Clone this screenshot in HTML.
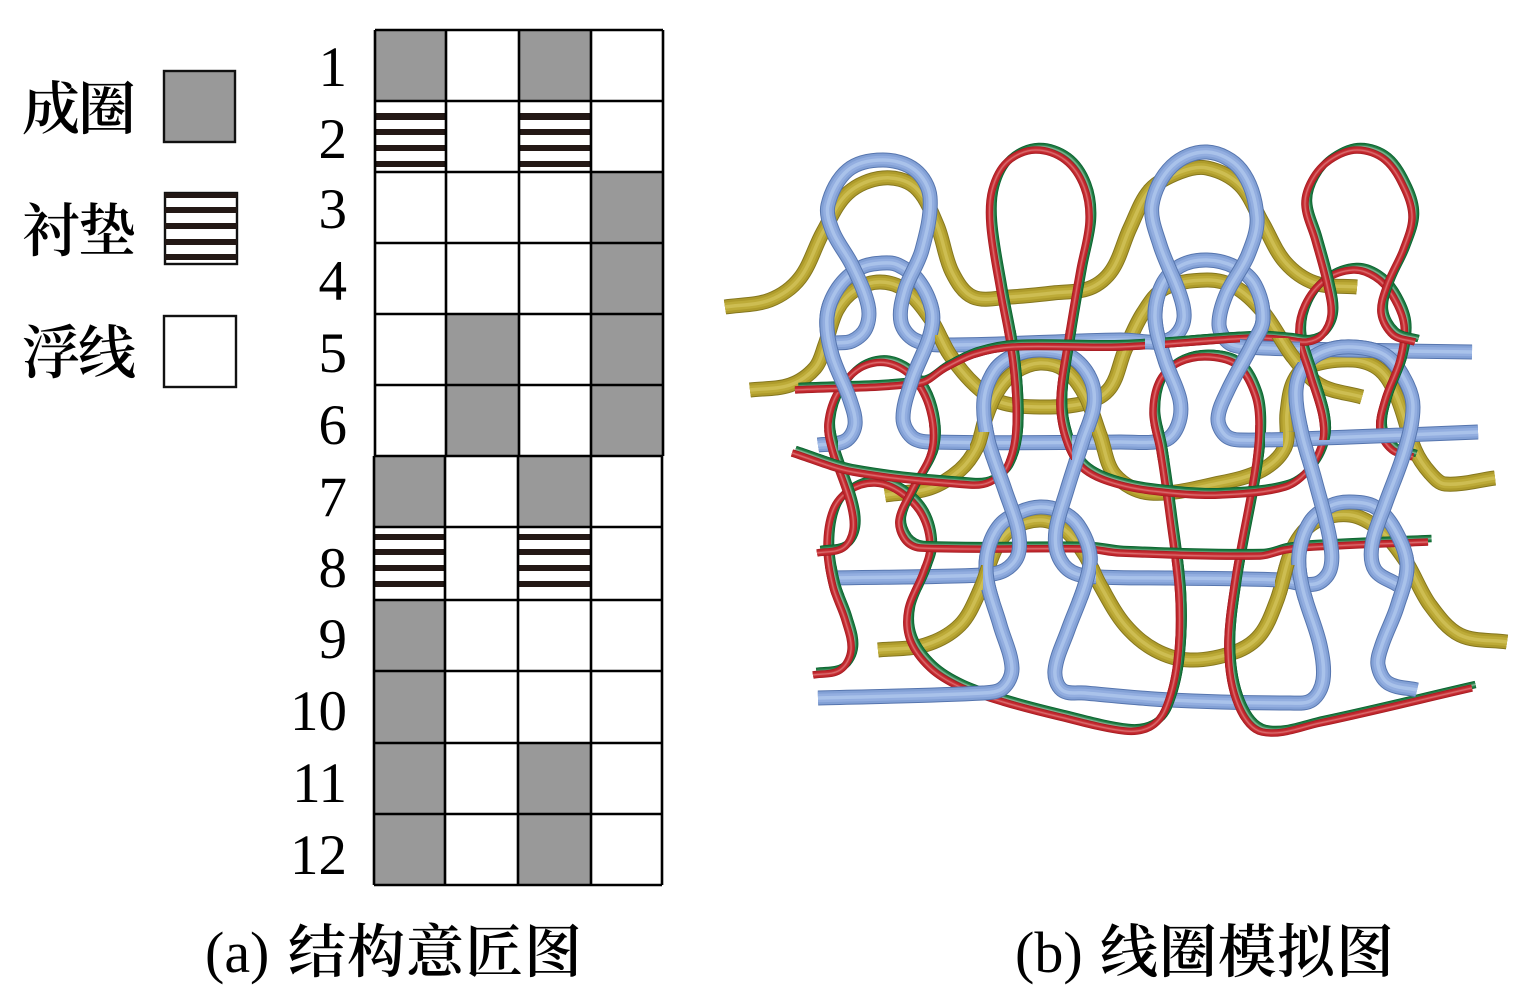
<!DOCTYPE html>
<html><head><meta charset="utf-8"><style>
html,body{margin:0;padding:0;background:#fff}
svg{display:block}
.n{font-family:"Liberation Serif",serif;font-size:57px;text-anchor:end;fill:#000}
.c{font-family:"Liberation Serif","Noto Serif CJK SC",serif;font-size:58px;font-weight:600;fill:#000}
.l{font-family:"Liberation Serif",serif;font-size:58px;fill:#000}
</style></head><body>
<svg id="s" xmlns="http://www.w3.org/2000/svg" width="1538" height="992" viewBox="0 0 1538 992">
<rect width="1538" height="992" fill="#fff"/>
<!-- legend -->
<text class="c" x="22" y="129" textLength="114">成圈</text>
<text class="c" x="22" y="251" textLength="114">衬垫</text>
<text class="c" x="22" y="373" textLength="114">浮线</text>
<rect x="164" y="71" width="71" height="71" fill="#999" stroke="#111" stroke-width="2.4"/>
<rect x="165" y="193" width="72" height="71" fill="#fff" stroke="#111" stroke-width="2.4"/>
<g fill="#231815"><rect x="165" y="193" width="72" height="5"/><rect x="165" y="207" width="72" height="6"/><rect x="165" y="223" width="72" height="6"/><rect x="165" y="239" width="72" height="6"/><rect x="165" y="254" width="72" height="6"/></g>
<rect x="164" y="316" width="72" height="71" fill="#fff" stroke="#111" stroke-width="2.4"/>
<!-- numbers -->
<text class="n" x="347" y="86">1</text><text class="n" x="347" y="158">2</text><text class="n" x="347" y="228">3</text><text class="n" x="347" y="300">4</text><text class="n" x="347" y="372">5</text><text class="n" x="347" y="444">6</text><text class="n" x="347" y="516">7</text><text class="n" x="347" y="587">8</text><text class="n" x="347" y="658">9</text><text class="n" x="347" y="730">10</text><text class="n" x="347" y="802">11</text><text class="n" x="347" y="874">12</text>
<!-- gray cells -->
<g fill="#999">
<rect x="375" y="30" width="71" height="71"/><rect x="519" y="30" width="72" height="71"/>
<rect x="591" y="172" width="72" height="142"/><rect x="446" y="314" width="73" height="142"/><rect x="591" y="314" width="71" height="142"/>
<rect x="374" y="456" width="71" height="71"/><rect x="518" y="456" width="73" height="71"/>
<rect x="374" y="600" width="71" height="285"/><rect x="518" y="743" width="73" height="142"/>
</g>
<!-- stripes -->
<g fill="#231815">
<rect x="375" y="113" width="71" height="7"/><rect x="375" y="129" width="71" height="6"/><rect x="375" y="145" width="71" height="6"/><rect x="375" y="161" width="71" height="6"/>
<rect x="519" y="113" width="72" height="7"/><rect x="519" y="129" width="72" height="6"/><rect x="519" y="145" width="72" height="6"/><rect x="519" y="161" width="72" height="6"/>
<rect x="374" y="534" width="71" height="6"/><rect x="374" y="549" width="71" height="6"/><rect x="374" y="565" width="71" height="6"/><rect x="374" y="581" width="71" height="6"/>
<rect x="518" y="534" width="72" height="6"/><rect x="518" y="549" width="72" height="6"/><rect x="518" y="565" width="72" height="6"/><rect x="518" y="581" width="72" height="6"/>
</g>
<!-- grid -->
<g stroke="#000" stroke-width="2.6" fill="none">
<path d="M375 30H663M375 101H663M375 172H663M375 243H663M375 314H663M375 385H663M374 456H663M374 527H662M374 600H662M374 671H662M374 743H662M374 814H662M374 885H662"/>
<path d="M375 30V456M446 30V456M519 30V456M591 30V456M663 30V456M374 456V885M445 456V885M518 456V885M591 456V885M662 456V885"/>
</g>
<!-- captions -->
<text class="l" x="205" y="972">(a)</text><text class="c" x="288" y="972" textLength="294">结构意匠图</text>
<text class="l" x="1015" y="972">(b)</text><text class="c" x="1100" y="972" textLength="294">线圈模拟图</text>
<defs id="d"></defs>
<g id="art"></g>
</svg>
<script>
var P={
y1:[725,307,770,300,800,278,823,232,848,193,883,178,915,187,937,225,952,272,973,297,1010,297,1053,293,1090,288,1112,270,1130,228,1150,190,1180,172,1207,168,1240,185,1262,222,1285,262,1315,283,1357,287],
y2:[750,390,790,385,815,368,825,345,837,310,855,290,880,282,905,290,930,318,950,355,975,385,1000,402,1040,407,1085,403,1110,388,1125,350,1143,313,1165,288,1207,280,1235,287,1263,312,1293,357,1320,385,1362,397],
y3:[885,495,930,488,960,470,977,447,985,420,997,392,1015,372,1040,363,1065,370,1085,395,1100,435,1115,475,1150,493,1220,483,1262,470,1285,447,1287,413,1293,383,1307,367,1353,360,1380,370,1397,397,1415,450,1430,473,1445,484,1495,478],
y4:[878,650,925,645,960,625,980,590,995,550,1010,530,1040,520,1065,530,1085,555,1100,585,1125,625,1155,650,1190,660,1235,652,1260,635,1277,600,1293,548,1315,522,1350,515,1380,530,1405,560,1430,605,1460,635,1507,642],
b1:[1472,352,1350,350,1245,347,1228,342,1219,325,1226,295,1248,255,1257,217,1241,170,1207,152,1172,166,1152,205,1160,245,1180,295,1184,318,1176,335,1160,342,1120,340,947,345,915,340,901,322,905,290,922,250,930,197,915,170,883,160,848,170,828,205,833,232,852,265,868,305,866,328,852,341,835,343],
b2:[1478,432,1350,437,1240,440,1225,435,1218,418,1228,390,1252,345,1263,320,1255,285,1235,267,1207,260,1180,266,1162,285,1155,318,1165,360,1180,400,1178,425,1165,440,1120,442,930,442,912,437,903,418,912,380,930,335,932,310,918,280,898,265,883,263,860,268,838,288,827,317,832,355,850,400,855,425,845,441,818,445],
b3:[835,578,983,575,1005,570,1018,555,1018,530,1005,490,988,440,984,400,995,370,1015,355,1040,350,1070,356,1090,378,1094,405,1083,440,1067,490,1056,530,1058,555,1072,572,1100,577,1170,578,1280,580,1315,584,1330,570,1330,540,1315,480,1301,430,1296,390,1305,365,1325,351,1353,347,1385,355,1405,380,1413,407,1405,450,1385,505,1372,545,1375,570,1398,585],
b4:[818,698,983,693,1003,688,1012,668,1000,625,987,580,988,550,1000,525,1020,512,1040,507,1060,511,1078,525,1090,555,1085,585,1068,630,1055,670,1062,690,1085,693,1170,700,1290,703,1312,700,1323,680,1320,645,1303,590,1299,555,1310,522,1330,506,1350,502,1375,507,1395,530,1407,565,1397,607,1382,645,1378,665,1388,683,1417,690],
r1:[795,390,920,383,945,368,975,354,1013,347,1120,347,1253,338,1287,340,1307,342,1322,335,1331,315,1327,285,1315,240,1305,205,1312,180,1330,160,1357,150,1385,160,1405,190,1412,218,1403,250,1387,285,1381,313,1393,335,1415,342],
r2:[1413,457,1392,450,1380,430,1385,400,1400,360,1404,325,1392,295,1375,277,1353,270,1325,280,1305,305,1299,335,1310,375,1322,415,1323,440,1310,468,1285,487,1220,495,1170,493,1120,485,1085,470,1068,445,1060,405,1067,347,1080,270,1089,222,1084,187,1065,160,1035,150,1007,162,992,190,990,225,1000,290,1013,363,1016,430,1007,467,990,482,970,485,853,472,792,453],
r3:[1428,542,1313,547,1285,550,1260,556,1120,553,1087,549,920,548,905,540,899,520,912,490,932,450,930,410,913,378,887,363,860,368,838,392,828,423,832,450,850,503,853,530,843,548,817,553],
r4:[813,675,840,670,851,650,845,620,833,587,827,547,833,510,850,490,875,483,900,492,922,515,930,547,923,573,908,610,910,640,930,668,960,687,1003,702,1060,717,1125,731,1150,727,1165,710,1177,663,1179,597,1170,520,1160,450,1153,413,1160,380,1180,362,1210,357,1238,366,1255,395,1259,425,1255,470,1235,580,1228,650,1238,705,1262,732,1320,723,1472,688]
};
function sp(a){var n=a.length/2,d="M"+a[0]+" "+a[1],T=[];function g(i){return[a[2*i],a[2*i+1]]}
for(var i=0;i<n;i++){var p=g(Math.max(0,i-1)),q=g(Math.min(n-1,i+1)),dx=q[0]-p[0],dy=q[1]-p[1],l=Math.hypot(dx,dy)||1;T.push([dx/l,dy/l])}
for(i=0;i<n-1;i++){var A=g(i),B=g(i+1),L=Math.hypot(B[0]-A[0],B[1]-A[1])*0.33;
d+="C"+(A[0]+T[i][0]*L).toFixed(1)+" "+(A[1]+T[i][1]*L).toFixed(1)+" "+(B[0]-T[i+1][0]*L).toFixed(1)+" "+(B[1]-T[i+1][1]*L).toFixed(1)+" "+B[0]+" "+B[1]}return d}
function tube(k,cols,ws,dx,dy){var d=sp(P[k]),o="";var t=dx?' transform="translate('+dx+' '+dy+')"':'';
for(var i=0;i<cols.length;i++)o+='<path d="'+d+'" fill="none" stroke="'+cols[i]+'" stroke-width="'+ws[i]+'"'+t+'/>';return o}
var Y=["#84761e","#ae9b2b","#bdab38","#cdbd52"],YW=[15,13,8.5,3.5],
B=["#5675ae","#82a0d5","#93aee0","#a9c2ea"],BW=[15,13,8.5,3.5],
R=["#a31c22","#bf262c","#cb3a3f","#d86a6c"],RW=[7.5,6,3,1.2],
G=["#0b5e2e","#1b7a3f","#3f9060","#7fb090"],GW=[7.5,6,3,1.2];
function yel(k){return tube(k,Y,YW)}function blu(k){return tube(k,B,BW)}
function rg(k){return tube(k,G,GW,3.5,-3.5)+tube(k,R,RW)}
var allRG=rg('r4')+rg('r3')+rg('r2')+rg('r1');
function clip(id,rs){var o='<clipPath id="'+id+'">';rs.forEach(function(r){o+='<rect x="'+r[0]+'" y="'+r[1]+'" width="'+(r[2]-r[0])+'" height="'+(r[3]-r[1])+'"/>'});return o+'</clipPath>'}
document.getElementById('d').innerHTML=
clip('c2',[[800,300,1300,372]])+
clip('c3',[[960,335,1110,372],[1285,335,1430,372],[960,425,1110,460],[1285,425,1430,460]])+
clip('c4',[[960,555,1110,600],[1285,555,1430,600]])+
clip('cy',[[935,335,970,356],[1263,338,1300,362],[970,432,990,452],[1092,432,1112,452],[1283,432,1300,452],[970,565,983,590],[1096,565,1115,590],[1275,565,1303,595]])+
clip('cr',[[945,330,1145,358],[1165,330,1240,355],[1000,358,1072,460],[1145,425,1265,460],[1150,560,1250,720],[1300,340,1335,440],[1370,335,1420,425],[900,565,940,590],[825,565,845,595],[920,425,945,455],[820,430,838,460]]);
document.getElementById('art').innerHTML=
yel('y1')+yel('y2')+yel('y4')+yel('y3')+
allRG+
blu('b4')+blu('b3')+blu('b2')+blu('b1')+
'<g clip-path="url(#c2)">'+blu('b2')+'</g>'+
'<g clip-path="url(#c3)">'+blu('b3')+'</g>'+
'<g clip-path="url(#c4)">'+blu('b4')+'</g>'+
'<g clip-path="url(#cy)">'+yel('y2')+yel('y3')+yel('y4')+'</g>'+
'<g clip-path="url(#cr)">'+allRG+'</g>';
</script>
</body></html>
